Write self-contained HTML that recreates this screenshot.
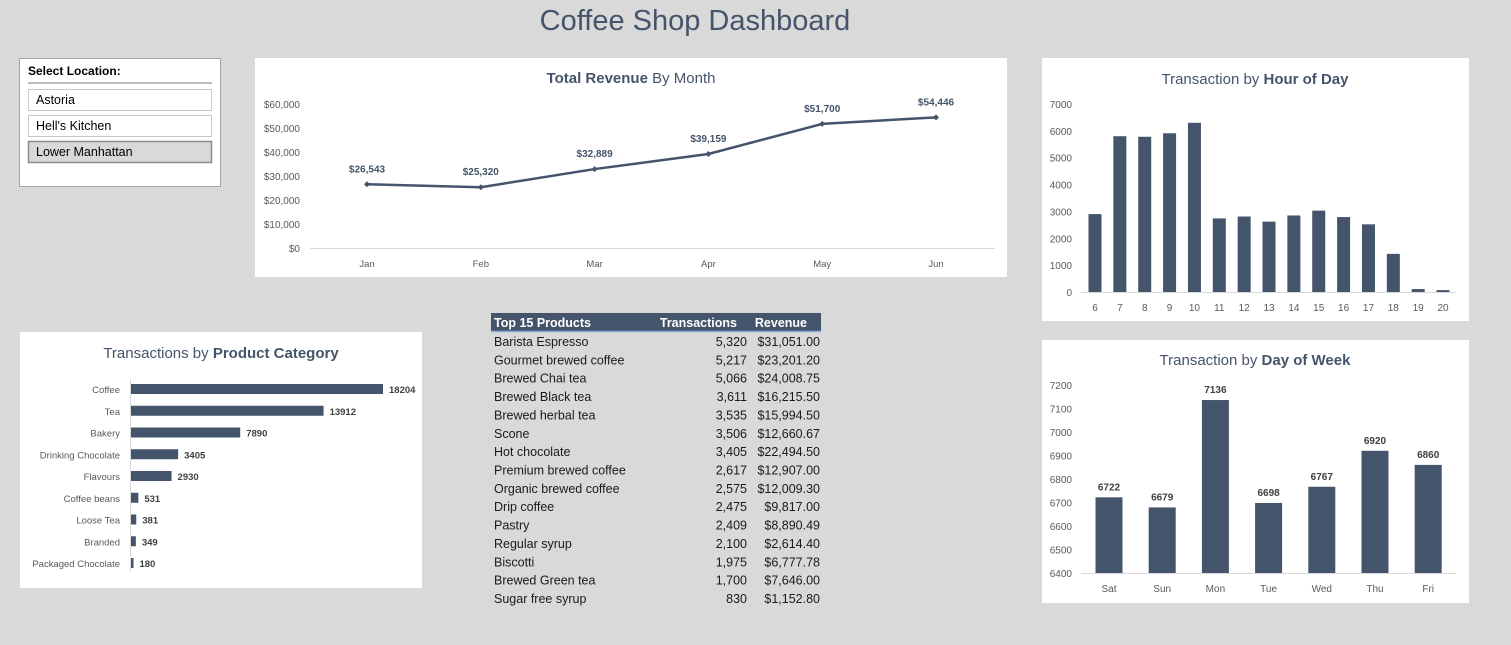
<!DOCTYPE html>
<html><head><meta charset="utf-8"><style>
body{margin:0;width:1511px;height:645px;background:#d9d9d9;font-family:"Liberation Sans",sans-serif;overflow:hidden;position:relative}
svg{position:absolute;left:0;top:0}
</style></head><body>
<svg id="s" width="1511" height="645"></svg>
<script>
const months=["Jan","Feb","Mar","Apr","May","Jun"];
const revenue=[26543,25320,32889,39159,51700,54446];
const revTicks=[0,10000,20000,30000,40000,50000,60000];
const hours=["6","7","8","9","10","11","12","13","14","15","16","17","18","19","20"];
const hourVals=[2900,5800,5780,5910,6300,2740,2810,2620,2850,3030,2790,2520,1420,110,70];
const hourTicks=[0,1000,2000,3000,4000,5000,6000,7000];
const days=["Sat","Sun","Mon","Tue","Wed","Thu","Fri"];
const dayVals=[6722,6679,7136,6698,6767,6920,6860];
const dayTicks=[6400,6500,6600,6700,6800,6900,7000,7100,7200];
const cats=["Coffee","Tea","Bakery","Drinking Chocolate","Flavours","Coffee beans","Loose Tea","Branded","Packaged Chocolate"];
const catVals=[18204,13912,7890,3405,2930,531,381,349,180];
const products=["Barista Espresso","Gourmet brewed coffee","Brewed Chai tea","Brewed Black tea","Brewed herbal tea","Scone","Hot chocolate","Premium brewed coffee","Organic brewed coffee","Drip coffee","Pastry","Regular syrup","Biscotti","Brewed Green tea","Sugar free syrup"];
const prodTx=["5,320","5,217","5,066","3,611","3,535","3,506","3,405","2,617","2,575","2,475","2,409","2,100","1,975","1,700","830"];
const prodRev=["$31,051.00","$23,201.20","$24,008.75","$16,215.50","$15,994.50","$12,660.67","$22,494.50","$12,907.00","$12,009.30","$9,817.00","$8,890.49","$2,614.40","$6,777.78","$7,646.00","$1,152.80"];

const S=document.getElementById('s');const NS="http://www.w3.org/2000/svg";
function el(t,a,txt){const e=document.createElementNS(NS,t);for(const k in a)e.setAttribute(k,a[k]);if(txt!==undefined)e.textContent=txt;S.appendChild(e);return e;}
const C="#44546a",G="#595959";
const fmt=v=>"$"+v.toLocaleString("en-US");

let e=el('text',{x:695,y:30,'text-anchor':'middle','font-size':29,fill:C},"Coffee Shop Dashboard");


// slicer
e=el('rect',{x:19.5,y:58.5,width:201,height:128,fill:'#fff',stroke:'#a6a6a6'});

e=el('text',{x:28,y:75,'font-size':12,'font-weight':'bold',fill:'#000'},"Select Location:");

el('line',{x1:28,x2:212,y1:83,y2:83,stroke:'#a6a6a6','stroke-width':1.5});
const locs=["Astoria","Hell's Kitchen","Lower Manhattan"];
locs.forEach((l,i)=>{const y=89+i*26;const sel=i==2;
 e=el('rect',{x:28.5,y:y+.5,width:183,height:21,fill:sel?'#d9d9d9':'#fff',stroke:sel?'#8c8c8c':'#c8c8c8','stroke-width':sel?1.5:1});
 
 el('text',{x:36,y:y+15,'font-size':12.5,fill:'#000'},l);});

// revenue chart
e=el('rect',{x:255,y:58,width:752,height:219,fill:'#fff'});

e=el('text',{x:631,y:83,'text-anchor':'middle','font-size':15,fill:C});
e.innerHTML='<tspan font-weight="bold">Total Revenue</tspan> By Month';

const ry=v=>248-v/60000*144, rx=i=>367+i*113.8;
revTicks.forEach(t=>{e=el('text',{x:300,y:ry(t)+4,'text-anchor':'end','font-size':10,fill:G},fmt(t));
 });
el('line',{x1:310,x2:995,y1:248.5,y2:248.5,stroke:'#d9d9d9'});
months.forEach((m,i)=>{e=el('text',{x:rx(i),y:267,'text-anchor':'middle','font-size':9.5,fill:G},m);
 });
e=el('polyline',{points:revenue.map((v,i)=>rx(i)+','+ry(v)).join(' '),fill:'none',stroke:C,'stroke-width':2.5});

revenue.forEach((v,i)=>{e=el('path',{d:`M${rx(i)-3},${ry(v)}l3,-3l3,3l-3,3z`,fill:C});
 
 e=el('text',{x:rx(i),y:ry(v)-12,'text-anchor':'middle','font-size':10,'font-weight':'bold',fill:C},fmt(v));
 });

// hour chart
e=el('rect',{x:1042,y:58,width:427,height:263,fill:'#fff'});

e=el('text',{x:1255,y:84,'text-anchor':'middle','font-size':15,fill:C});
e.innerHTML='Transaction by <tspan font-weight="bold">Hour of Day</tspan>';

const hy=v=>292-v/7000*188, hx=i=>1095+i*24.86;
hourTicks.forEach(t=>{e=el('text',{x:1072,y:hy(t)+4,'text-anchor':'end','font-size':10,fill:G},t);
 });
hourVals.forEach((v,i)=>{e=el('rect',{x:hx(i)-6.5,y:hy(v),width:13,height:292-hy(v),fill:C});
 
 e=el('text',{x:hx(i),y:311,'text-anchor':'middle','font-size':10,fill:G},hours[i]);
 });
el('line',{x1:1081,x2:1456,y1:292.5,y2:292.5,stroke:'#d9d9d9'});

// day chart
e=el('rect',{x:1042,y:340,width:427,height:263,fill:'#fff'});

e=el('text',{x:1255,y:365,'text-anchor':'middle','font-size':15,fill:C});
e.innerHTML='Transaction by <tspan font-weight="bold">Day of Week</tspan>';

const dy=v=>573-(v-6400)/800*188, dx=i=>1109+i*53.2;
dayTicks.forEach(t=>{e=el('text',{x:1072,y:dy(t)+4,'text-anchor':'end','font-size':10,fill:G},t);
 });
dayVals.forEach((v,i)=>{e=el('rect',{x:dx(i)-13.5,y:dy(v),width:27,height:573-dy(v),fill:C});
 
 e=el('text',{x:dx(i),y:dy(v)-7,'text-anchor':'middle','font-size':10,'font-weight':'bold',fill:'#404040'},v);
 
 e=el('text',{x:dx(i),y:592,'text-anchor':'middle','font-size':10,fill:G},days[i]);
 });
el('line',{x1:1081,x2:1456,y1:573.5,y2:573.5,stroke:'#d9d9d9'});

// category chart
e=el('rect',{x:20,y:332,width:402,height:256,fill:'#fff'});

e=el('text',{x:221,y:358,'text-anchor':'middle','font-size':15,fill:C});
e.innerHTML='Transactions by <tspan font-weight="bold">Product Category</tspan>';

const cw=v=>v/18204*252, cy=i=>389+i*21.75;
el('line',{x1:130.5,x2:130.5,y1:379,y2:572,stroke:'#d9d9d9'});
cats.forEach((c,i)=>{e=el('text',{x:120,y:cy(i)+4,'text-anchor':'end','font-size':9.5,fill:G},c);
 
 e=el('rect',{x:131,y:cy(i)-5,width:Math.max(cw(catVals[i]),2),height:10,fill:C});
 
 e=el('text',{x:131+cw(catVals[i])+6,y:cy(i)+4,'font-size':9.5,'font-weight':'bold',fill:'#404040'},catVals[i]);
 });

// table
e=el('rect',{x:491,y:313,width:330,height:18,fill:C});

el('line',{x1:491,x2:821,y1:331.5,y2:331.5,stroke:'#8ea9db','stroke-width':1.5});
el('text',{x:494,y:327,'font-size':12.5,'font-weight':'bold',fill:'#fff'},"Top 15 Products");
el('text',{x:737,y:327,'text-anchor':'end','font-size':12.5,'font-weight':'bold',fill:'#fff'},"Transactions");
el('text',{x:807,y:327,'text-anchor':'end','font-size':12.5,'font-weight':'bold',fill:'#fff'},"Revenue");
products.forEach((p,i)=>{const y=346+i*18.36;
 e=el('text',{x:494,y:y,'font-size':12.5,fill:'#1a1a1a'},p);
 
 el('text',{x:747,y:y,'text-anchor':'end','font-size':12.5,fill:'#1a1a1a'},prodTx[i]);
 el('text',{x:820,y:y,'text-anchor':'end','font-size':12.5,fill:'#1a1a1a'},prodRev[i]);});
</script>
</body></html>
